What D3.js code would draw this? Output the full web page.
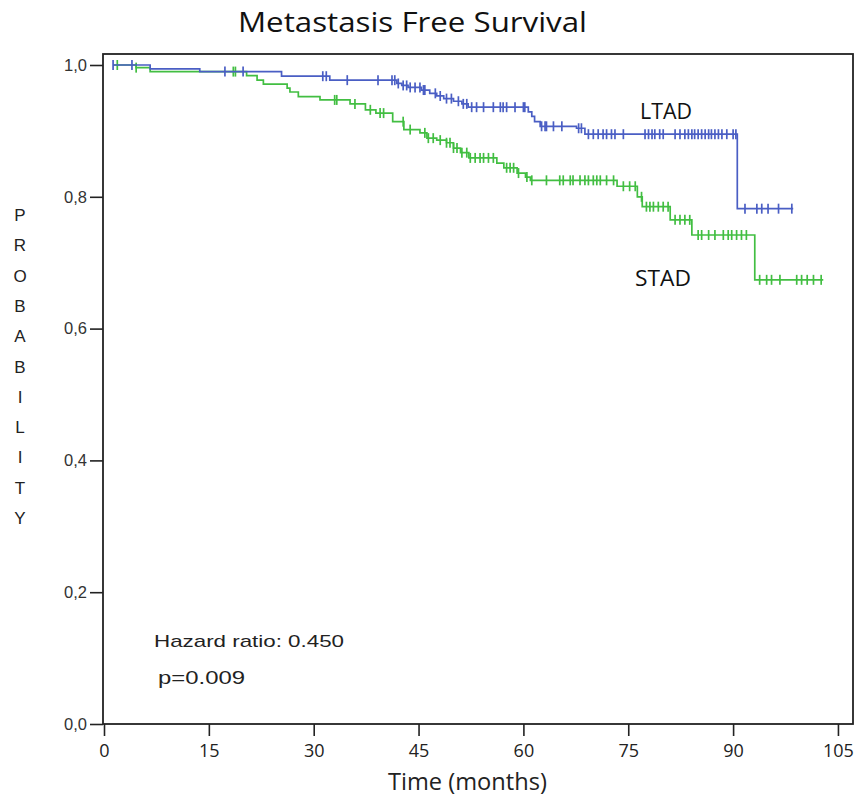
<!DOCTYPE html>
<html>
<head>
<meta charset="utf-8">
<script src="https://cdn.jsdelivr.net/npm/d3@7"></script>
<style>
  body { margin: 0; background: #fff; }
  svg { display: block; }
</style>
</head>
<body>
<svg id="chart" width="858" height="802"></svg>
<script>
// Kaplan-Meier step data: [time in months, survival probability after the step]
const ltadSteps = [
  [1.3, 1.000], [6.6, 0.994], [13.7, 0.990], [25.4, 0.983], [32.3, 0.977],
  [41.9, 0.972], [42.6, 0.969], [43.5, 0.966], [45.4, 0.962], [46.6, 0.957],
  [47.6, 0.953], [48.6, 0.949], [50.0, 0.945], [51.2, 0.941], [52.1, 0.936],
  [60.7, 0.929], [61.2, 0.922], [61.6, 0.914], [62.4, 0.907], [67.6, 0.904],
  [68.8, 0.895], [90.6, 0.782]
];
const ltadEnd = 98.6;
const ltadCensored = [
  1.3, 4.0, 17.3, 19.9, 31.3, 31.8, 34.8, 39.2, 41.2, 41.6, 42.1, 42.8, 43.3,
  43.8, 44.5, 45.2, 45.7, 45.9, 47.4, 48.1, 49.0, 49.7, 50.7, 51.4, 51.9, 52.6,
  53.3, 54.3, 55.7, 56.7, 57.1, 57.6, 58.8, 60.0, 60.2, 62.6, 63.1, 63.3, 64.3,
  65.5, 67.9, 68.3, 69.3, 70.0, 70.7, 71.4, 71.9, 72.6, 73.1, 74.3, 77.4, 77.9,
  78.4, 78.8, 79.5, 80.0, 81.7, 82.4, 83.1, 83.6, 84.1, 84.5, 85.0, 85.5, 86.0,
  86.5, 86.9, 87.4, 87.9, 88.4, 89.1, 90.0, 90.4, 91.7, 93.4, 94.1, 95.0, 96.5,
  98.4
];

const stadSteps = [
  [1.3, 1.000], [4.6, 0.996], [6.6, 0.990], [20.4, 0.984], [21.9, 0.977],
  [22.8, 0.971], [26.2, 0.965], [26.6, 0.959], [27.8, 0.952], [30.9, 0.947],
  [35.2, 0.941], [37.4, 0.932], [38.9, 0.927], [41.3, 0.914], [42.9, 0.902],
  [45.2, 0.897], [46.2, 0.889], [47.6, 0.886], [49.0, 0.882], [50.0, 0.874],
  [51.0, 0.867], [52.2, 0.859], [56.2, 0.851], [57.2, 0.844], [59.1, 0.836],
  [60.3, 0.830], [61.0, 0.825], [73.4, 0.816], [76.3, 0.800], [77.0, 0.785],
  [81.0, 0.765], [84.1, 0.742], [93.1, 0.674]
];
const stadEnd = 102.9;
const stadCensored = [
  1.9, 4.6, 18.5, 18.8, 33.0, 33.3, 35.9, 38.1, 39.5, 40.0, 42.8, 43.8, 45.9,
  46.4, 47.1, 48.1, 49.0, 49.5, 50.0, 50.5, 51.2, 51.9, 52.4, 53.1, 53.8, 54.3,
  55.0, 55.7, 57.6, 58.1, 58.6, 59.3, 60.5, 61.2, 63.3, 65.2, 65.7, 66.7, 67.1,
  68.1, 68.8, 69.3, 70.0, 70.5, 71.0, 71.9, 72.9, 74.3, 75.2, 76.0, 76.9, 77.6,
  78.1, 78.6, 79.3, 80.0, 80.7, 81.7, 82.4, 83.1, 83.8, 85.0, 85.5, 86.5, 87.4,
  88.6, 89.3, 89.8, 90.5, 91.2, 91.9, 93.8, 94.8, 95.5, 96.7, 99.1, 99.8, 100.6,
  101.5, 102.6
];

const xTicks = [0, 15, 30, 45, 60, 75, 90, 105];
const yTicks = [0, 0.2, 0.4, 0.6, 0.8, 1.0];
const yLetters = "PROBABILITY".split("");

const svg = d3.select("#chart");
const plot = { left: 103, top: 54, right: 853, bottom: 724 };

const x = d3.scaleLinear().domain([0, 107]).range([104, 104 + 107 * 6.99]);
const y = d3.scaleLinear().domain([0, 1]).range([724, 65]);

// plot frame
svg.append("rect")
  .attr("x", plot.left).attr("y", plot.top)
  .attr("width", plot.right - plot.left).attr("height", plot.bottom - plot.top)
  .attr("fill", "none").attr("stroke", "#222").attr("stroke-width", 1.8);

// axes
const xAxis = svg.append("g")
  .attr("transform", `translate(0,${plot.bottom})`)
  .call(d3.axisBottom(x).tickValues(xTicks).tickSize(12).tickPadding(8).tickFormat(d3.format("d")));
xAxis.select(".domain").remove();
xAxis.selectAll("line").attr("stroke", "#222").attr("stroke-width", 1.6);
xAxis.selectAll("text")
  .attr("font-family", "'Liberation Sans Narrow', 'Open Sans', sans-serif")
  .attr("font-size", 18).attr("fill", "#222");

const yAxis = svg.append("g")
  .attr("transform", `translate(${plot.left},0)`)
  .call(d3.axisLeft(y).tickValues(yTicks).tickSize(13).tickPadding(3)
    .tickFormat(d => d3.format(".1f")(d).replace(".", ",")));
yAxis.select(".domain").remove();
yAxis.selectAll("line").attr("stroke", "#222").attr("stroke-width", 1.6);
yAxis.selectAll("text")
  .attr("font-family", "'Liberation Sans', Arial, sans-serif")
  .attr("font-size", 16.5).attr("fill", "#333");

// step curves
function stepPath(steps, end) {
  const pts = [];
  steps.forEach((s, i) => {
    if (i > 0) pts.push([s[0], steps[i - 1][1]]);
    pts.push([s[0], s[1]]);
  });
  pts.push([end, steps[steps.length - 1][1]]);
  return d3.line().x(d => x(d[0])).y(d => y(d[1]))(pts);
}
function survivalAt(steps, t) {
  let s = steps[0][1];
  for (const st of steps) { if (st[0] <= t) s = st[1]; }
  return s;
}
function drawCurve(steps, end, censored, color) {
  const g = svg.append("g");
  g.append("path").attr("d", stepPath(steps, end))
    .attr("fill", "none").attr("stroke", color).attr("stroke-width", 1.7);
  g.selectAll("line.c").data(censored).join("line")
    .attr("x1", d => x(d)).attr("x2", d => x(d))
    .attr("y1", d => y(survivalAt(steps, d)) - 5)
    .attr("y2", d => y(survivalAt(steps, d)) + 5)
    .attr("stroke", color).attr("stroke-width", 1.7);
}
drawCurve(stadSteps, stadEnd, stadCensored, "#42be42");
drawCurve(ltadSteps, ltadEnd, ltadCensored, "#4a5ec4");

// labels
function label(txt, xPos, yPos, opts) {
  const t = svg.append("text").attr("x", xPos).attr("y", yPos)
    .attr("font-family", opts.family).attr("font-size", opts.size)
    .attr("fill", opts.fill || "#111")
    .attr("text-anchor", opts.anchor || "start")
    .text(txt);
  if (opts.width) t.attr("textLength", opts.width).attr("lengthAdjust", "spacingAndGlyphs");
  return t;
}
const sans = "'Open Sans', sans-serif";
const arial = "'Liberation Sans', Arial, sans-serif";

label("Metastasis Free Survival", 412.5, 32, { family: sans, size: 26.5, anchor: "middle", width: 349 });
label("Time (months)", 467.5, 790, { family: sans, size: 23, anchor: "middle", width: 159, fill: "#222" });
label("LTAD", 640, 118.5, { family: sans, size: 21.5, width: 52 });
label("STAD", 635, 286, { family: sans, size: 21.5, width: 56 });
label("Hazard ratio: 0.450", 154, 647, { family: arial, size: 17, width: 190, fill: "#222" });
label("p=0.009", 158, 684, { family: arial, size: 19, width: 87, fill: "#222" });

svg.append("g").selectAll("text").data(yLetters).join("text")
  .attr("x", 20).attr("y", (d, i) => 221 + i * 30.3).attr("text-anchor", "middle")
  .attr("font-family", arial).attr("font-size", 17).attr("fill", "#222")
  .text(d => d);
</script>
</body>
</html>
